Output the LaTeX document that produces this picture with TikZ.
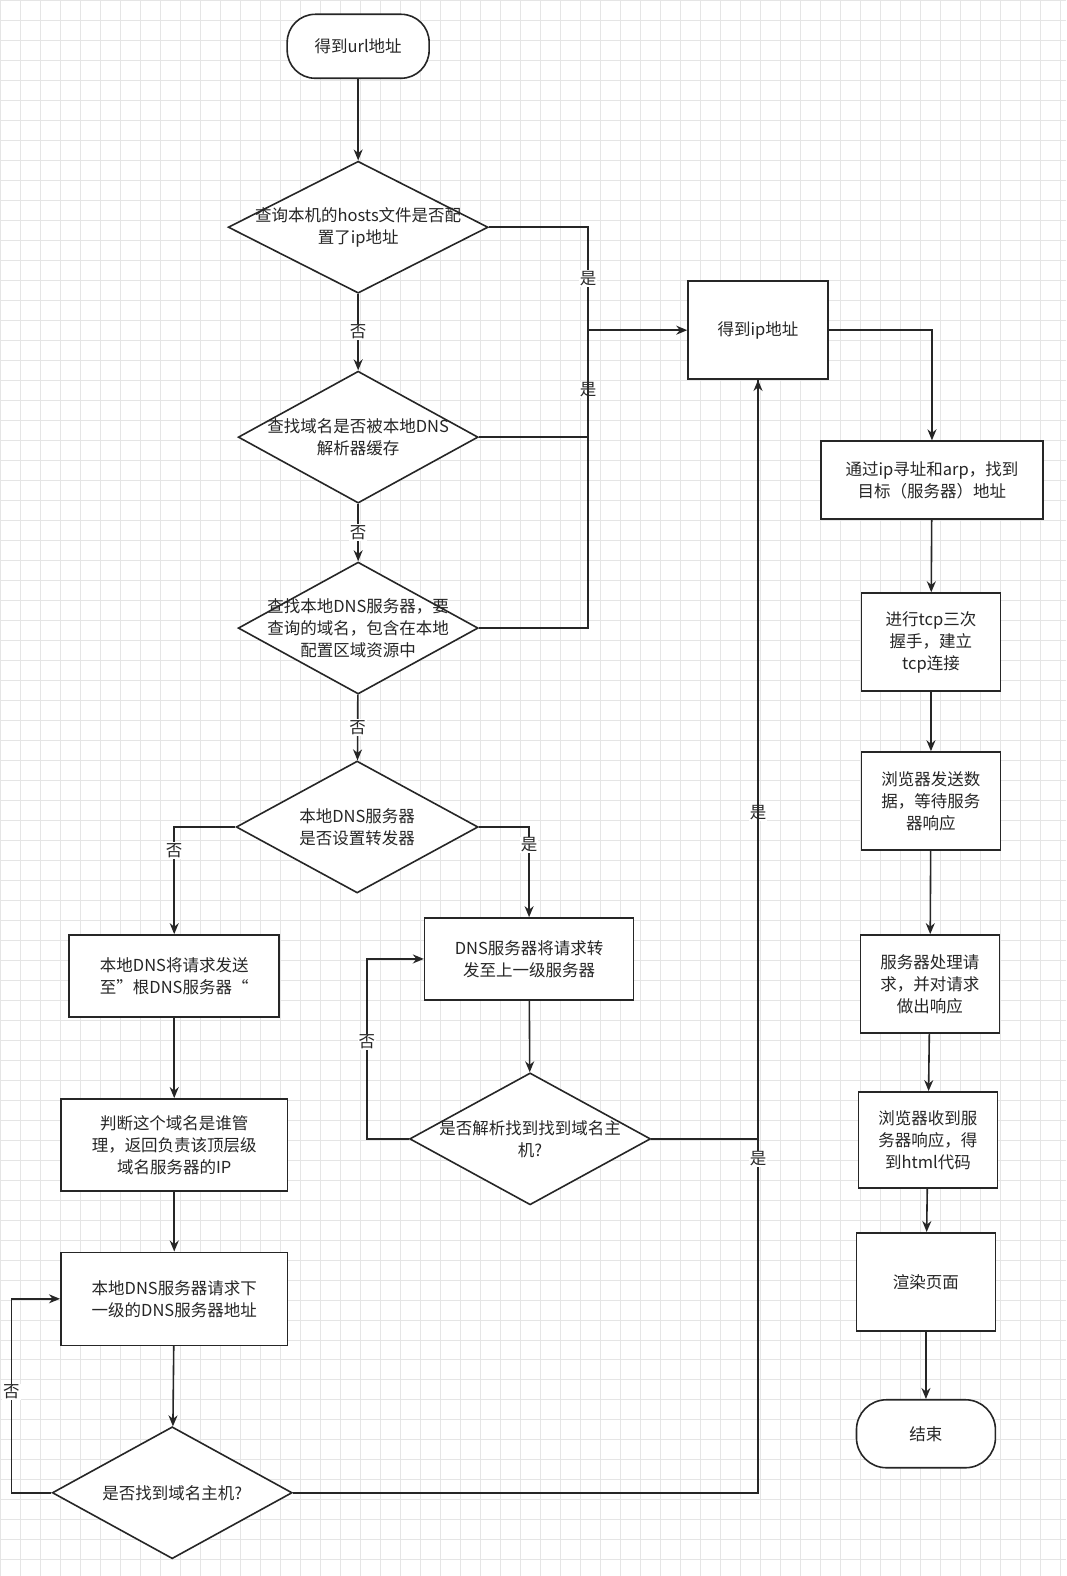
\documentclass[tikz,border=0pt]{standalone}
\usepackage{fontspec}
\setmainfont{Noto Sans CJK SC}
\usetikzlibrary{shapes.geometric,arrows.meta}
\begin{document}
\begin{tikzpicture}[x=1pt,y=-1pt,
  every node/.style={font=\fontsize{16.5}{22}\selectfont,align=center,text=black!85},
  box/.style={draw=black!85,line width=1.6pt,fill=white,inner sep=2pt},
  term/.style={box,rounded corners=28pt},
  dia/.style={draw=black!85,line width=1.6pt,fill=white,diamond,aspect=1.8,inner sep=0pt},
  line/.style={draw=black!85,line width=1.6pt},
  arr/.style={line,-{Stealth[length=11pt,width=9pt]}},
  lab/.style={fill=white,inner sep=1pt}]
\fill[white] (0,0) rectangle (1066,1576);
\foreach \i in {0,20,...,1060} \draw[black!10,line width=0.6pt] (\i,0) -- (\i,1576);
\foreach \j in {0,20,...,1570} \draw[black!10,line width=0.6pt] (0,\j) -- (1066,\j);
\useasboundingbox (0,0) rectangle (1066,1576);
% nodes
\node[term,minimum width=142pt,minimum height=64pt] (s) at (358,46) {得到url地址};
\node[dia,minimum width=260pt,minimum height=132pt] (d1) at (358,227) {};
\node at (358,227) {查询本机的hosts文件是否配\\置了ip地址};
\node[dia,minimum width=240pt,minimum height=132pt] (d2) at (358,437) {};
\node at (358,437) {查找域名是否被本地DNS\\解析器缓存};
\node[dia,minimum width=240pt,minimum height=132pt] (d3) at (358,628) {};
\node at (358,628) {查找本地DNS服务器，要\\查询的域名，包含在本地\\配置区域资源中};
\node[dia,minimum width=242pt,minimum height=132pt] (d4) at (357,827) {};
\node at (357,827) {本地DNS服务器\\是否设置转发器};
\node[box,minimum width=140pt,minimum height=98pt] (ip) at (758,330) {得到ip地址};
\node[box,minimum width=222pt,minimum height=78pt] (arp) at (932,480) {通过ip寻址和arp，找到\\目标（服务器）地址};
\node[box,minimum width=139pt,minimum height=98pt] (tcp) at (931,642) {进行tcp三次\\握手，建立\\tcp连接};
\node[box,minimum width=139pt,minimum height=98pt] (bs) at (931,801) {浏览器发送数\\据，等待服务\\器响应};
\node[box,minimum width=139pt,minimum height=98pt] (sp) at (930,984) {服务器处理请\\求，并对请求\\做出响应};
\node[box,minimum width=139pt,minimum height=96pt] (rc) at (928,1140) {浏览器收到服\\务器响应，得\\到html代码};
\node[box,minimum width=139pt,minimum height=98pt] (rd) at (926,1282) {渲染页面};
\node[term,minimum width=139pt,minimum height=68pt,rounded corners=30pt] (e) at (926,1434) {结束};
\node[box,minimum width=210pt,minimum height=82pt] (root) at (174,976) {本地DNS将请求发送\\至”根DNS服务器“};
\node[box,minimum width=227pt,minimum height=92pt] (jd) at (174,1145) {判断这个域名是谁管\\理，返回负责该顶层级\\域名服务器的IP};
\node[box,minimum width=227pt,minimum height=93pt] (rq) at (174,1299) {本地DNS服务器请求下\\一级的DNS服务器地址};
\node[dia,minimum width=240pt,minimum height=132pt] (d5) at (172,1493) {};
\node at (172,1493) {是否找到域名主机?};
\node[box,minimum width=209pt,minimum height=82pt] (fw) at (529,959) {DNS服务器将请求转\\发至上一级服务器};
\node[dia,minimum width=241pt,minimum height=132pt] (d6) at (530,1139) {};
\node at (530,1139) {是否解析找到找到域名主\\机?};
% coordinates
\coordinate (m) at (588,330);
% connectors
\draw[arr] (s) -- (d1);
\draw[arr] (d1) -- node[lab]{否} (d2);
\draw[arr] (d2) -- node[lab]{否} (d3);
\draw[arr] (d3) -- node[lab]{否} (d4);
\draw[line] (d1.east) -| node[lab,pos=0.75]{是} (m);
\draw[line] (d2.east) -| node[lab,pos=0.72]{是} (m);
\draw[line] (d3.east) -| (m);
\draw[arr] (m) -- (ip.west);
\draw[arr] (d4.west) -| node[lab,pos=0.61]{否} (root.north);
\draw[arr] (d4.east) -| node[lab,pos=0.6]{是} (fw.north);
\draw[arr] (fw) -- (d6);
\draw[arr] (d6.west) -- ++(-42,0) |- node[lab,pos=0.27]{否} (fw.west);
\draw[arr] (d6.east) -| node[lab,pos=0.715]{是} (ip.south);
\draw[line] (d5.east) -| node[lab,pos=0.65]{是} (ip.south);
\draw[arr] (root) -- (jd);
\draw[arr] (jd) -- (rq);
\draw[arr] (rq) -- (d5);
\draw[arr] (d5.west) -- ++(-40,0) |- node[lab,pos=0.26]{否} (rq.west);
\draw[arr] (ip.east) -| (arp.north);
\draw[arr] (arp) -- (tcp);
\draw[arr] (tcp) -- (bs);
\draw[arr] (bs) -- (sp);
\draw[arr] (sp) -- (rc);
\draw[arr] (rc) -- (rd);
\draw[arr] (rd) -- (e);
\end{tikzpicture}
\end{document}
